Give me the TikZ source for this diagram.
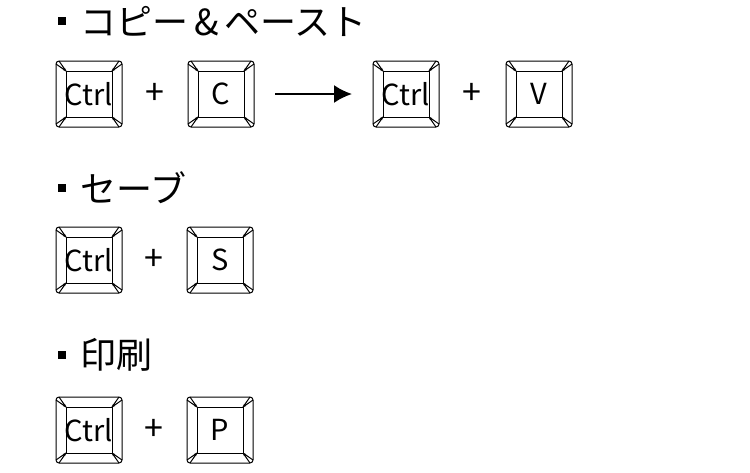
\documentclass[tikz,border=0pt]{standalone}
\usepackage{fontspec}
\usetikzlibrary{arrows.meta}
\setmainfont{Noto Sans CJK JP}
\begin{document}
\begin{tikzpicture}[x=1pt,y=-1pt,
  lbl/.style={font=\fontsize{29}{29}\selectfont},
  head/.style={font=\fontsize{36}{36}\selectfont,anchor=west,inner sep=0},
  plus/.style={font=\fontsize{34}{34}\selectfont}]
\useasboundingbox (0,0) rectangle (750,472);
\fill[white] (0,0) rectangle (750,472);
\newcommand{\keycap}[4]{% name, cx, cy, text
  \begin{scope}[shift={(#2,#3)},line width=1pt]
    \draw[rounded corners=3pt] (-33,-33) rectangle (33,33);
    \draw (-23,-23) rectangle (23,23);
    \draw (-33,-30) -- (-23,-23) (-30,-33) -- (-23,-23);
    \draw (33,-30) -- (23,-23) (30,-33) -- (23,-23);
    \draw (-33,30) -- (-23,23) (-30,33) -- (-23,23);
    \draw (33,30) -- (23,23) (30,33) -- (23,23);
    \fill (-23,-23) -- (-26,-24) -- (-24,-26) -- cycle;
    \fill (23,-23) -- (26,-24) -- (24,-26) -- cycle;
    \fill (-23,23) -- (-26,24) -- (-24,26) -- cycle;
    \fill (23,23) -- (26,24) -- (24,26) -- cycle;
    \node[lbl] (#1) at (0,0) {#4};
  \end{scope}}
% headings
\fill (58,17) rectangle (66,25);
\node[head] (h1) at (80,21) {コピー\,\&\,ペースト};
\fill (58,184) rectangle (66,192);
\node[head] (h2) at (80,188) {セーブ};
\fill (58,351) rectangle (66,359);
\node[head] (h3) at (80,355) {印刷};
% row 1
\keycap{k1}{89}{94}{Ctrl}
\node[plus] (p1) at (155,94) {+};
\keycap{k2}{221}{94}{C}
\keycap{k3}{406}{94}{Ctrl}
\node[plus] (p2) at (472,94) {+};
\keycap{k4}{539}{94}{V}
\coordinate (a1) at (275,94);
\coordinate (a2) at (352,94);
\draw[line width=2pt,-{Latex[length=18pt,width=18pt]}] (a1) -- (a2);
% row 2
\keycap{k5}{89}{260}{Ctrl}
\node[plus] (p3) at (154,260) {+};
\keycap{k6}{220}{260}{S}
% row 3
\keycap{k7}{89}{430}{Ctrl}
\node[plus] (p4) at (154,430) {+};
\keycap{k8}{220}{430}{P}
\end{tikzpicture}
\end{document}
